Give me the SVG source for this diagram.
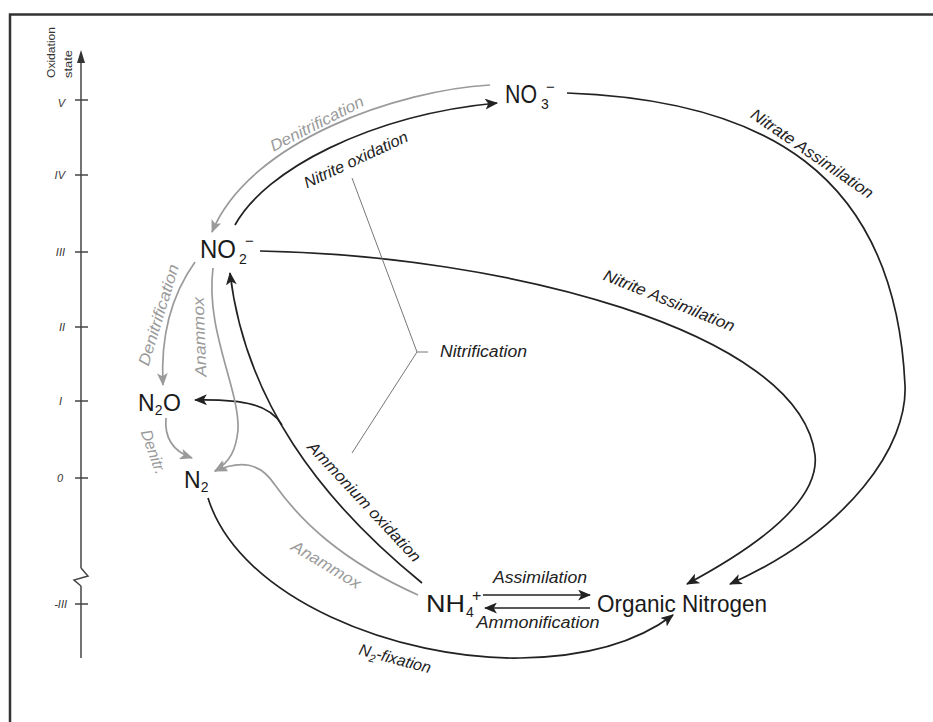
<svg xmlns="http://www.w3.org/2000/svg" width="933" height="722" viewBox="0 0 933 722">
<style>
.frame{fill:none;stroke:#333;stroke-width:2.5}
.axis{fill:none;stroke:#444;stroke-width:1.5}
.blk{fill:none;stroke:#222;stroke-width:1.7}
.gry{fill:none;stroke:#9a9a9a;stroke-width:1.7}
.thin{fill:none;stroke:#777;stroke-width:1}
.node{font-family:"Liberation Sans",Arial,sans-serif;fill:#1a1a1a}
.lbl{font-family:"Liberation Sans",Arial,sans-serif;font-style:italic;font-size:16px;fill:#222}
.glbl{font-family:"Liberation Sans",Arial,sans-serif;font-style:italic;font-size:16px;fill:#9a9a9a}
.ax{font-family:"Liberation Sans",Arial,sans-serif;font-style:italic;font-size:11px;fill:#333}
</style>
<defs>
<marker id="ab" viewBox="0 0 12 10" refX="11" refY="5" markerWidth="13" markerHeight="11" markerUnits="userSpaceOnUse" orient="auto"><path d="M0,0 L12,5 L0,10 L3,5 z" fill="#222"/></marker>
<marker id="ag" viewBox="0 0 12 10" refX="11" refY="5" markerWidth="13" markerHeight="11" markerUnits="userSpaceOnUse" orient="auto"><path d="M0,0 L12,5 L0,10 L3,5 z" fill="#9a9a9a"/></marker>
</defs>
<rect width="933" height="722" fill="#fff"/>
<rect class="frame" x="10" y="14.5" width="940" height="720"/>

<g id="axis">
<line class="axis" x1="81" y1="60" x2="81" y2="568"/>
<polyline class="axis" points="81,568 88,576 74,580 81,586"/>
<line class="axis" x1="81" y1="586" x2="81" y2="658"/>
<polygon points="81,50 77,63 85,63" fill="#333"/>
<g class="axis">
<line x1="75" y1="100" x2="88" y2="100"/>
<line x1="75" y1="175" x2="88" y2="175"/>
<line x1="75" y1="252" x2="88" y2="252"/>
<line x1="75" y1="327" x2="88" y2="327"/>
<line x1="75" y1="401" x2="88" y2="401"/>
<line x1="75" y1="478" x2="88" y2="478"/>
<line x1="75" y1="604" x2="88" y2="604"/>
</g>
<g class="ax" text-anchor="end">
<text x="65" y="107">V</text>
<text x="65" y="179">IV</text>
<text x="65" y="256">III</text>
<text x="65" y="331">II</text>
<text x="62" y="405">I</text>
<text x="63" y="482">0</text>
<text x="67" y="608">-III</text>
</g>
<text class="ax" font-size="12" transform="translate(55,78) rotate(-90)" textLength="51" lengthAdjust="spacingAndGlyphs" style="font-style:normal">Oxidation</text>
<text class="ax" font-size="12" transform="translate(72,78) rotate(-90)" textLength="28" lengthAdjust="spacingAndGlyphs" style="font-style:normal">state</text>
</g>

<g id="connectors">
<path id="nitrite-oxidation" class="blk" d="M235,225 C265,170 370,115 497,103" marker-end="url(#ab)"/>
<path id="denitrification-top" class="gry" d="M490,85 C400,90 250,140 212,232" marker-end="url(#ag)"/>
<path id="nitrate-assimilation" class="blk" d="M567,93 C760,100 895,170 905,385 C908,445 850,530 730,584" marker-end="url(#ab)"/>
<path id="nitrite-assimilation" class="blk" d="M260,251 C500,255 800,330 815,455 C820,500 760,545 687,584" marker-end="url(#ab)"/>
<path id="ammonium-oxidation" class="blk" d="M422,583 C320,500 245,400 230,273" marker-end="url(#ab)"/>
<path id="ammonium-n2o" class="blk" d="M282,425 C270,405 245,399 195,400" marker-end="url(#ab)"/>
<path id="denitrification-left" class="gry" d="M195,262 C175,290 160,330 163,385" marker-end="url(#ag)"/>
<path id="anammox-no2" class="gry" d="M213,268 C205,330 240,390 238,430 C236,450 230,462 215,471" marker-end="url(#ag)"/>
<path id="denitr-n2o" class="gry" d="M166,418 C164,440 175,452 192,458" marker-end="url(#ag)"/>
<path id="anammox-nh4" class="gry" d="M418,595 C340,560 300,520 275,485 C260,462 240,460 215,471" marker-end="url(#ag)"/>
<path id="n2-fixation" class="blk" d="M208,498 C240,600 400,660 520,658 C590,657 640,640 673,615" marker-end="url(#ab)"/>
<path id="assimilation" class="blk" d="M483,595 L590,595" marker-end="url(#ab)"/>
<path id="ammonification" class="blk" d="M590,608 L485,608" marker-end="url(#ab)"/>
<polyline id="nitrification-bracket" class="thin" points="352,178 417,352 352,453"/>
<line class="thin" x1="417" y1="352" x2="428" y2="352"/>

<text class="glbl" transform="translate(317,124) rotate(-27)" y="5" text-anchor="middle" textLength="103" lengthAdjust="spacingAndGlyphs">Denitrification</text>
<text class="lbl" transform="translate(356,160) rotate(-25)" y="5" text-anchor="middle" textLength="113" lengthAdjust="spacingAndGlyphs">Nitrite oxidation</text>
<text class="lbl" transform="translate(812,154) rotate(34.5)" y="5" text-anchor="middle" textLength="145" lengthAdjust="spacingAndGlyphs">Nitrate Assimilation</text>
<text class="lbl" transform="translate(669,301) rotate(22)" y="5" text-anchor="middle" textLength="140" lengthAdjust="spacingAndGlyphs">Nitrite Assimilation</text>
<text class="lbl" transform="translate(364,502) rotate(47)" y="5" text-anchor="middle" textLength="158" lengthAdjust="spacingAndGlyphs">Ammonium oxidation</text>
<text class="glbl" transform="translate(326,565) rotate(31)" y="5" text-anchor="middle" textLength="78" lengthAdjust="spacingAndGlyphs">Anammox</text>
<text class="glbl" transform="translate(200,337) rotate(-92)" y="5" text-anchor="middle" textLength="80" lengthAdjust="spacingAndGlyphs">Anammox</text>
<text class="glbl" transform="translate(159,315) rotate(-73)" y="5" text-anchor="middle" textLength="105" lengthAdjust="spacingAndGlyphs">Denitrification</text>
<text class="glbl" transform="translate(153,452) rotate(70)" y="5" text-anchor="middle" textLength="46" lengthAdjust="spacingAndGlyphs">Denitr.</text>
<text class="lbl" transform="translate(395,659) rotate(15)" y="5" text-anchor="middle">N<tspan font-size="11" dy="4">2</tspan><tspan dy="-4">-fixation</tspan></text>
<text class="lbl" x="540" y="583" text-anchor="middle" textLength="94" lengthAdjust="spacingAndGlyphs">Assimilation</text>
<text class="lbl" x="538" y="628" text-anchor="middle" textLength="123" lengthAdjust="spacingAndGlyphs">Ammonification</text>
<text class="lbl" x="440" y="357" textLength="87" lengthAdjust="spacingAndGlyphs">Nitrification</text>
</g>

<g id="node-no3" class="node">
<text x="505" y="103" font-size="25" textLength="32" lengthAdjust="spacingAndGlyphs">NO</text>
<text x="541" y="109" font-size="14">3</text>
<text x="546" y="92" font-size="15">−</text>
</g>
<g id="node-no2" class="node">
<text x="200" y="258" font-size="25" textLength="36" lengthAdjust="spacingAndGlyphs">NO</text>
<text x="239" y="264" font-size="14">2</text>
<text x="245" y="246" font-size="15">−</text>
</g>
<g id="node-n2o" class="node">
<text x="138" y="411" font-size="23">N<tspan font-size="14" dy="4">2</tspan><tspan dy="-4" x="163">O</tspan></text>
</g>
<g id="node-n2" class="node">
<text x="184" y="488" font-size="23">N<tspan font-size="14" dy="4">2</tspan></text>
</g>
<g id="node-nh4" class="node">
<text x="426" y="612" font-size="24" textLength="39" lengthAdjust="spacingAndGlyphs">NH</text>
<text x="466" y="617" font-size="14">4</text>
<text x="472" y="601" font-size="16">+</text>
</g>
<g id="node-organic" class="node">
<text x="597" y="612" font-size="24" textLength="170" lengthAdjust="spacingAndGlyphs">Organic Nitrogen</text>
</g>
</svg>
